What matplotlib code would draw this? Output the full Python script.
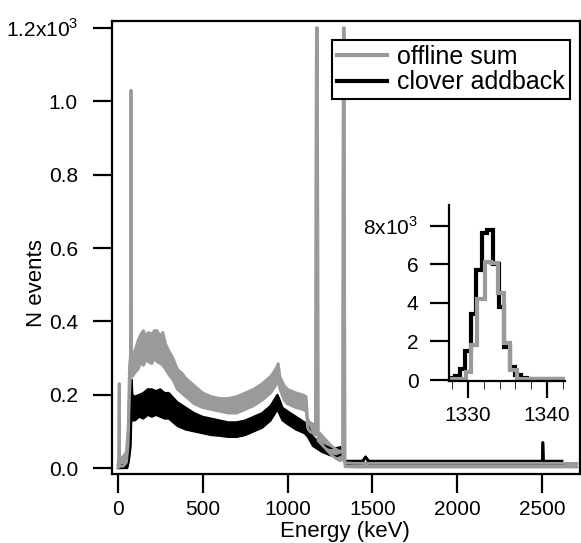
import matplotlib
matplotlib.use("Agg")
import matplotlib.pyplot as plt

plt.rcParams['font.family'] = ['Liberation Sans', 'DejaVu Sans']
plt.rcParams['mathtext.fontset'] = 'custom'
plt.rcParams['mathtext.rm'] = 'Liberation Sans'

GRAY = '#9a9a9a'

# main spectrum, offline sum (energy keV, lower / upper edge of the noisy band, events)
sum_E = [0, 5, 7, 8, 9, 12, 30, 50, 60, 68, 74, 77, 80, 85, 100, 120, 135, 150, 165, 180, 200,
         215, 230, 250, 265, 280, 300, 325, 350, 375, 400, 450, 500, 550, 600, 650, 700, 750, 800, 850,
         900, 930, 945, 955, 980, 1000, 1050, 1090, 1110, 1118, 1130, 1150, 1165,
         1170, 1176, 1180, 1200, 1230, 1260, 1290, 1310, 1325, 1329, 1334, 1338,
         1400, 1600, 1800, 2000, 2200, 2400, 2600, 2706]
sum_lo = [0, 5, 150, 230, 10, 5, 5, 15, 60, 200, 250, 1030, 250, 250, 260, 270, 290, 280, 295, 290, 285,
          300, 290, 285, 280, 270, 255, 240, 215, 205, 195, 175, 165, 160, 155, 150, 150, 160, 170, 185,
          205, 225, 240, 215, 185, 175, 165, 160, 155, 110, 100, 95, 90,
          1200, 1200, 75, 65, 50, 35, 25, 20, 25, 1200, 1200, 4,
          3, 3, 3, 3, 3, 3, 3, 3]
sum_hi = [10, 30, 230, 230, 40, 30, 30, 45, 110, 280, 310, 1030, 310, 310, 320, 350, 365, 375, 360, 370, 365,
          375, 375, 360, 370, 340, 320, 300, 270, 260, 245, 225, 205, 195, 190, 190, 195, 205, 215, 230,
          250, 270, 285, 250, 225, 215, 205, 200, 195, 135, 125, 120, 115,
          1200, 1200, 100, 90, 75, 60, 50, 45, 50, 1200, 1200, 14,
          13, 13, 13, 13, 13, 13, 13, 13]

# main spectrum, clover addback
add_E = [0, 55, 65, 75, 80, 82, 85, 100, 125, 150, 175, 200, 225, 250, 275, 300, 350, 400, 450, 500, 550,
         600, 650, 700, 750, 800, 850, 900, 940, 950, 970, 1000, 1050, 1100, 1120,
         1150, 1200, 1250, 1290, 1320, 1340, 1440, 1460, 1480, 1800, 2100, 2400,
         2500, 2503, 2507, 2510, 2620]
add_lo = [0, 0, 20, 60, 150, 240, 130, 130, 140, 135, 145, 140, 145, 140, 135, 135, 115, 105, 100, 95, 90,
          88, 85, 85, 90, 100, 110, 130, 160, 150, 130, 120, 105, 95, 85,
          60, 45, 35, 32, 38, 12, 12, 30, 12, 12, 12, 12,
          12, 70, 70, 12, 12]
add_hi = [5, 10, 40, 120, 240, 240, 200, 195, 200, 205, 215, 215, 210, 215, 205, 205, 180, 165, 150, 140, 135,
          130, 125, 125, 130, 140, 150, 170, 200, 190, 165, 155, 140, 125, 115,
          85, 65, 55, 55, 58, 20, 20, 32, 20, 20, 20, 20,
          20, 70, 70, 20, 20]

# inset: 1332 keV line, bin edges (keV) and counts
add_edges = [1327.59, 1328.35, 1328.99, 1329.62, 1330.38, 1331.01, 1331.77, 1332.47,
             1333.16, 1333.92, 1334.56, 1335.32, 1335.95, 1336.71, 1337.47, 1342.28]
add_counts = [80, 200, 550, 1500, 3400, 5700, 7600, 7800, 6000, 3800, 1700, 650, 250, 120, 50]
sum_edges = [1327.59, 1329.75, 1330.38, 1331.14, 1332.15, 1332.97, 1333.80, 1334.56,
             1335.32, 1336.20, 1342.28]
sum_counts = [50, 400, 1800, 4200, 6100, 6050, 4500, 1900, 500, 50]

fig = plt.figure(figsize=(5.81, 5.43), dpi=100)
ax = fig.add_axes([112/581, 1-474/543, (580-112)/581, (474-21)/543])

# clover addback first, offline sum on top
ax.fill_between(add_E, add_lo, add_hi, color='black', lw=0)
ax.plot(add_E, add_lo, color='black', lw=1.5)
ax.plot(add_E, add_hi, color='black', lw=1.5, label='clover addback')
ax.fill_between(sum_E, sum_lo, sum_hi, color=GRAY, lw=0)
ax.plot(sum_E, sum_lo, color=GRAY, lw=2)
ax.plot(sum_E, sum_hi, color=GRAY, lw=2, label='offline sum')

ax.set_xlim(-35, 2724)
ax.set_ylim(-16, 1219)
ax.set_xticks([0, 500, 1000, 1500, 2000, 2500])
ax.set_yticks([0, 200, 400, 600, 800, 1000, 1200])
ax.set_yticklabels(['0.0', '0.2', '0.4', '0.6', '0.8', '1.0', '1.2x10$^3$'])
ax.tick_params(direction='out', length=13.5, width=1.6, labelsize=15)
ax.tick_params(axis='y', pad=11)
ax.tick_params(axis='x', pad=5)
for s in ax.spines.values():
    s.set_linewidth(1.6)

h, l = ax.get_legend_handles_labels()
leg = ax.legend(h[::-1], l[::-1], loc='upper right', bbox_to_anchor=(0.979, 0.958),
                fontsize=18, fancybox=False, edgecolor='black', framealpha=1,
                handlelength=2.0, handletextpad=0.4, borderpad=0.2, labelspacing=0.05,
                borderaxespad=0)
leg.get_frame().set_linewidth(1.5)
for line in leg.get_lines():
    line.set_linewidth(3)

fig.text(345/581, 1-542/543, 'Energy (keV)', ha='center', va='bottom', fontsize=16)
fig.text(37/581, 1-283/543, 'N events', ha='center', va='center', rotation=90, fontsize=16)

# inset
ins = fig.add_axes([449/581, 1-381/543, (565-449)/581, (381-205)/543])
ins.patch.set_alpha(0)
ins.stairs(add_counts, add_edges, color='black', lw=3, baseline=None)
ins.stairs(sum_counts, sum_edges, color=GRAY, lw=3, baseline=None)
ins.set_xlim(1327.6, 1342.3)
ins.set_ylim(-50, 9070)
ins.spines['top'].set_visible(False)
ins.spines['right'].set_visible(False)
for s in ins.spines.values():
    s.set_linewidth(1.6)
ins.set_xticks([1330, 1340])
ins.set_xticks([1328, 1332, 1334, 1336, 1338, 1342], minor=True)
ins.set_yticks([0, 2000, 4000, 6000, 8000])
ins.set_yticklabels(['0', '2', '4', '6', '8x10$^3$'])
ins.tick_params(direction='out', width=1.6, labelsize=15)
ins.tick_params(axis='x', which='major', length=12, pad=6)
ins.tick_params(axis='x', which='minor', length=6)
ins.tick_params(axis='y', length=14, pad=8)

fig.savefig('out.png', dpi=100)
